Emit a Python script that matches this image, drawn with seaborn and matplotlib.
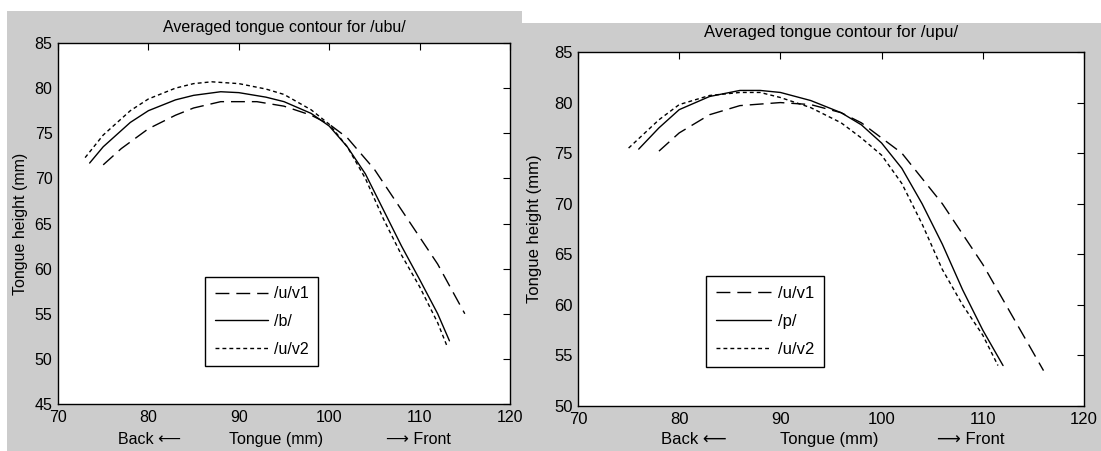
import numpy as np
import pandas as pd
import matplotlib
matplotlib.use("Agg")
import matplotlib.pyplot as plt
import seaborn as sns
from matplotlib.patches import Rectangle

sns.set_theme(style="white")
plt.rcParams['font.family'] = ['Liberation Sans', 'DejaVu Sans']
plt.rcParams['axes.labelcolor'] = 'black'
plt.rcParams['text.color'] = 'black'

# ---------------- data: /ubu/ ----------------
ubu_v1_x = [75, 77, 80, 83, 85, 88, 92, 95, 98, 100, 102, 105, 108, 110, 112, 115]
ubu_v1_y = [71.5, 73.3, 75.5, 77.0, 77.8, 78.5, 78.5, 78.0, 77.0, 76.0, 74.5, 71.0, 66.5, 63.5, 60.5, 55.0]
ubu_b_x = [73.5, 75, 78, 80, 83, 85, 88, 90, 93, 95, 98, 100, 102, 104, 106, 108, 110, 112, 113.3]
ubu_b_y = [71.7, 73.5, 76.2, 77.5, 78.7, 79.2, 79.6, 79.5, 79.0, 78.5, 77.2, 75.8, 73.5, 70.5, 66.5, 62.5, 58.8, 55.0, 52.0]
ubu_v2_x = [73, 75, 78, 80, 83, 85, 87, 90, 93, 95, 98, 100, 102, 104, 106, 108, 110, 112, 113]
ubu_v2_y = [72.3, 74.8, 77.5, 78.8, 80.0, 80.5, 80.7, 80.5, 79.9, 79.3, 77.6, 76.0, 73.5, 70.0, 65.5, 61.5, 58.0, 54.0, 51.5]

# ---------------- data: /upu/ ----------------
upu_v1_x = [78, 80, 83, 86, 90, 93, 96, 98, 100, 102, 104, 106, 108, 110, 112, 114, 116]
upu_v1_y = [75.2, 77.0, 78.8, 79.7, 80.0, 79.8, 79.0, 78.0, 76.5, 75.0, 72.5, 70.0, 67.0, 64.0, 60.5, 57.0, 53.5]
upu_p_x = [76, 78, 80, 83, 86, 88, 90, 93, 96, 98, 100, 102, 104, 106, 108, 110, 112]
upu_p_y = [75.4, 77.5, 79.3, 80.6, 81.2, 81.2, 81.0, 80.2, 79.0, 77.8, 76.0, 73.5, 70.0, 66.0, 61.5, 57.5, 54.0]
upu_v2_x = [75, 78, 80, 83, 86, 88, 90, 93, 96, 98, 100, 102, 104, 106, 108, 110, 111.5]
upu_v2_y = [75.5, 78.3, 79.8, 80.7, 81.0, 81.0, 80.5, 79.5, 78.0, 76.5, 74.8, 72.0, 68.0, 63.5, 60.0, 57.0, 54.0]

x_ticks = [70, 80, 90, 100, 110, 120]
ubu_y_ticks = [45, 50, 55, 60, 65, 70, 75, 80, 85]
upu_y_ticks = [50, 55, 60, 65, 70, 75, 80, 85]

W, H = 1101, 451
fig = plt.figure(figsize=(W / 100, H / 100), dpi=100)
fig.patch.set_facecolor("white")
GRAY = "#cccccc"
fig.add_artist(Rectangle((7 / W, 0), (522 - 7) / W, (H - 11) / H, transform=fig.transFigure,
                         facecolor=GRAY, edgecolor="none", zorder=-10))
fig.add_artist(Rectangle((522 / W, 0), (W - 522) / W, (H - 23) / H, transform=fig.transFigure,
                         facecolor=GRAY, edgecolor="none", zorder=-10))

DASH = (10, 5)
DOT = (2.8, 2.2)


def panel(rect, series, ylim, yticks, title, fs, title_pad, leg_center, ylabel_x,
          back_x, tongue_x, front_x, xl_y):
    ax = fig.add_axes(rect)
    ax.set_facecolor("white")
    handles = []
    for (xs, ys, lab, dash) in series:
        sns.lineplot(x=xs, y=ys, ax=ax, color="black", linewidth=1.0, sort=False,
                     estimator=None, label=lab)
        ln = ax.lines[-1]
        if dash is not None:
            ln.set_dashes(dash)
        handles.append(ln)
    ax.set_xlim(70, 120)
    ax.set_ylim(*ylim)
    ax.set_xticks(x_ticks)
    ax.set_yticks(yticks)
    ax.tick_params(direction="in", length=5, width=0.8, top=True, right=True,
                   labelsize=fs, colors="black", pad=4)
    for sp in ax.spines.values():
        sp.set_color("black")
        sp.set_linewidth(1.0)
        sp.set_visible(True)
    ax.set_title(title, fontsize=fs, color="black", pad=title_pad)
    ax.set_xlabel("Tongue (mm)", fontsize=fs, color="black")
    ax.xaxis.label.set_va("center")
    ax.xaxis.set_label_coords(tongue_x, xl_y)
    ax.text(back_x, xl_y, "Back \u27f5", transform=ax.transAxes, fontsize=fs,
            ha="left", va="center", color="black")
    ax.text(front_x, xl_y, "\u27f6 Front", transform=ax.transAxes, fontsize=fs,
            ha="left", va="center", color="black")
    ax.set_ylabel("Tongue height (mm)", fontsize=fs, color="black")
    ax.yaxis.set_label_coords(ylabel_x, 0.5)
    leg = ax.legend(handles, [s[2] for s in series], loc="center", bbox_to_anchor=leg_center,
                    fontsize=fs, frameon=True, fancybox=False, edgecolor="black",
                    framealpha=1, handlelength=3.3, handletextpad=0.4, labelspacing=0.8,
                    borderpad=0.6)
    leg.get_frame().set_linewidth(1.0)
    return ax


panel([58 / W, (H - 404) / H, (510 - 58) / W, (404 - 43) / H],
      [(ubu_v1_x, ubu_v1_y, "/u/v1", DASH), (ubu_b_x, ubu_b_y, "/b/", None),
       (ubu_v2_x, ubu_v2_y, "/u/v2", DOT)],
      (45, 85), ubu_y_ticks, "Averaged tongue contour for /ubu/", 11.5, 8,
      (0.451, 0.2285), -0.066, 0.133, 0.483, 0.726, -0.0985)

panel([578 / W, (H - 406) / H, (1084 - 578) / W, (406 - 52) / H],
      [(upu_v1_x, upu_v1_y, "/u/v1", DASH), (upu_p_x, upu_p_y, "/p/", None),
       (upu_v2_x, upu_v2_y, "/u/v2", DOT)],
      (50, 85), upu_y_ticks, "Averaged tongue contour for /upu/", 12, 11,
      (0.37, 0.239), -0.071, 0.164, 0.497, 0.709, -0.094)

fig.savefig("out.png", dpi=100, facecolor=fig.get_facecolor())
